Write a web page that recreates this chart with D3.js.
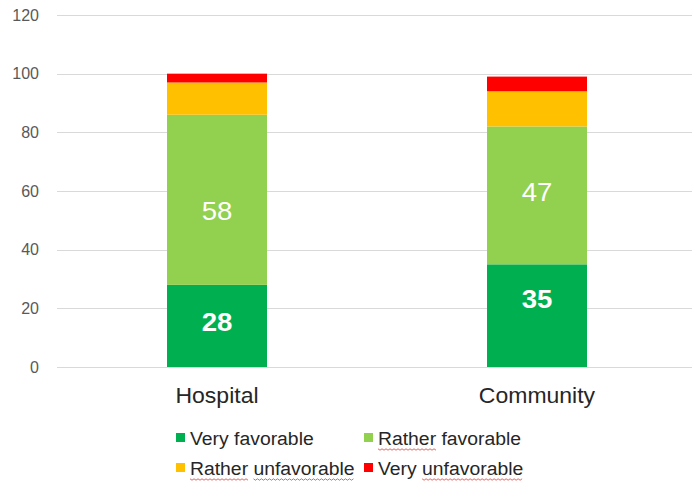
<!DOCTYPE html>
<html>
<head>
<meta charset="utf-8">
<script src="https://cdn.jsdelivr.net/npm/d3@7"></script>
<style>
body { margin: 0; background: #fff; }
svg { display: block; font-family: Arial, "Liberation Sans", sans-serif; }
</style>
</head>
<body>
<div id="canvas"></div>
<script>
var categories = ["Hospital", "Community"];
var seriesNames = ["Very favorable", "Rather favorable", "Rather unfavorable", "Very unfavorable"];
var seriesColors = ["#00B050", "#92D050", "#FFC000", "#FF0000"];
var veryFavorable = [28, 35];
var ratherFavorable = [58, 47];
var ratherUnfavorable = [11, 12];
var veryUnfavorable = [3, 5];
var yTicks = [0, 20, 40, 60, 80, 100, 120];
// words flagged by the spell checker in the legend
var squiggly = { "Rather favorable": ["Rather"], "Rather unfavorable": ["Rather", "unfavorable"], "Very unfavorable": ["unfavorable"] };

var width = 692, height = 483;
var svg = d3.select("#canvas").append("svg")
	.attr("width", width)
	.attr("height", height);

// the source rendering is a bit wider than the font, stretch text horizontally
function stretch(sel, f) {
	sel.each(function(){
		var w = this.getComputedTextLength();
		d3.select(this).attr("textLength", w * f).attr("lengthAdjust", "spacingAndGlyphs");
	});
}

var x = d3.scaleBand()
	.domain(categories)
	.range([57, 697])
	.paddingInner(0.6875)
	.paddingOuter(0.34375);

var y = d3.scaleLinear()
	.domain([0, 120])
	.range([367, 15]);

// gridlines
svg.append("g").selectAll("line")
	.data(yTicks)
	.enter().append("line")
	.attr("x1", 57)
	.attr("x2", width)
	.attr("y1", function(d){ return Math.round(y(d)) + 0.5; })
	.attr("y2", function(d){ return Math.round(y(d)) + 0.5; })
	.attr("stroke", "#d9d9d9")
	.attr("stroke-width", 1);

// y axis labels
var yAxis = d3.axisLeft(y).tickValues(yTicks).tickSize(0).tickPadding(0);
var yg = svg.append("g").attr("transform", "translate(39,0)").call(yAxis);
yg.select(".domain").remove();
yg.selectAll("text")
	.attr("fill", "#595959")
	.style("font-size", "16px")
	.style("font-family", "Arial, 'Liberation Sans', sans-serif");

var series = [veryFavorable, ratherFavorable, ratherUnfavorable, veryUnfavorable];
var rows = categories.map(function(c, i){
	var r = { cat: c };
	seriesNames.forEach(function(s, j){ r[s] = series[j][i]; });
	return r;
});
var stacked = d3.stack().keys(seriesNames)(rows);

var layers = svg.append("g").selectAll("g")
	.data(stacked)
	.enter().append("g")
	.attr("fill", function(d, i){ return seriesColors[i]; });

layers.selectAll("rect")
	.data(function(d){ return d; })
	.enter().append("rect")
	.attr("x", function(d){ return x(d.data.cat); })
	.attr("y", function(d){ return y(d[1]); })
	.attr("width", x.bandwidth())
	.attr("height", function(d){ return y(d[0]) - y(d[1]); });

// data labels on the two green segments; in the source they were dragged
// by hand, so each one sits at its own height (in axis units)
var labelAt = [[15.3, 23.2], [53.2, 59.8]];
[0, 1].forEach(function(k){
	var t = svg.append("g").selectAll("text")
		.data(stacked[k])
		.enter().append("text")
		.attr("x", function(d){ return x(d.data.cat) + x.bandwidth() / 2; })
		.attr("y", function(d, i){ return y(labelAt[k][i]); })
		.attr("dy", "0.36em")
		.attr("text-anchor", "middle")
		.attr("fill", "#fff")
		.attr("font-size", 26)
		.attr("font-weight", k === 0 ? "bold" : "normal")
		.text(function(d){ return d[1] - d[0]; });
	stretch(t, 1.06);
});

// category labels
var cl = svg.append("g").selectAll("text")
	.data(categories)
	.enter().append("text")
	.attr("x", function(d){ return x(d) + x.bandwidth() / 2; })
	.attr("y", 403)
	.attr("text-anchor", "middle")
	.attr("fill", "#262626")
	.attr("font-size", 22)
	.text(function(d){ return d; });
stretch(cl, 1.045);

// legend
var legendPos = [[176, 445], [364, 445], [176, 475], [364, 475]];
var lf = 1.075;
var legend = svg.append("g").selectAll("g")
	.data(seriesNames)
	.enter().append("g")
	.attr("transform", function(d, i){ return "translate(" + legendPos[i][0] + "," + legendPos[i][1] + ")"; });

legend.append("rect")
	.attr("x", 0)
	.attr("y", -12)
	.attr("width", 9)
	.attr("height", 9)
	.attr("fill", function(d, i){ return seriesColors[i]; });

legend.append("text")
	.attr("x", 14)
	.attr("y", 0)
	.attr("fill", "#262626")
	.attr("font-size", 18)
	.text(function(d){ return d; })
	.each(function(d){
		var node = this, g = d3.select(this.parentNode);
		var words = squiggly[d] || [];
		words.forEach(function(w){
			var start = d.indexOf(w);
			var x0 = 14 + (start > 0 ? node.getSubStringLength(0, start) : 0) * lf;
			var len = node.getSubStringLength(start, w.length) * lf;
			var pts = [];
			for (var px = 0, k = 0; px <= len; px += 2, k++) {
				pts.push([x0 + px, 4 + (k % 2 ? 1.2 : -0.2)]);
			}
			g.append("path")
				.attr("d", d3.line()(pts))
				.attr("fill", "none")
				.attr("stroke", "#e0403a")
				.attr("stroke-width", 0.8);
		});
		var tw = node.getComputedTextLength();
		d3.select(node).attr("textLength", tw * lf).attr("lengthAdjust", "spacingAndGlyphs");
	});
</script>
</body>
</html>
